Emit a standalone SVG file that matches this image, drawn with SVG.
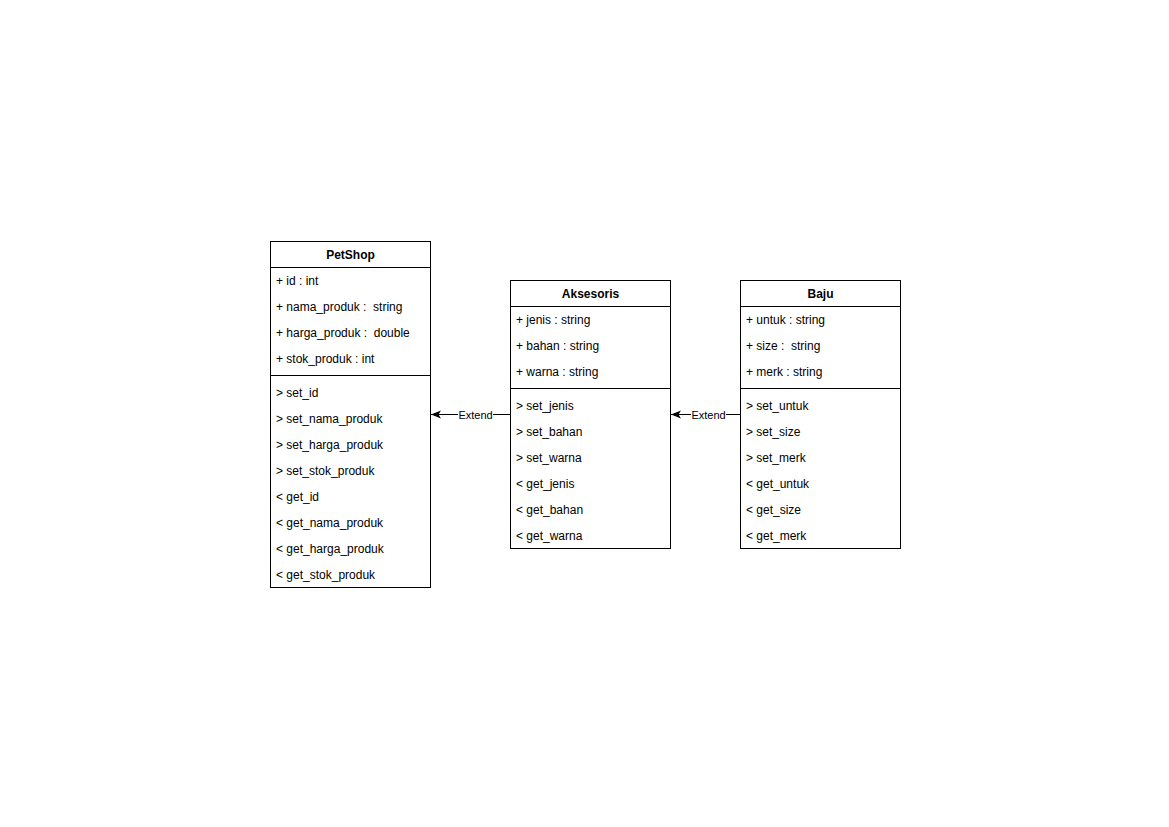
<svg xmlns="http://www.w3.org/2000/svg" width="1169" height="827" viewBox="0 0 1169 827" xml:space="preserve">
<style>
.box{fill:#fff;stroke:#000;stroke-width:1}
.sep{stroke:#000;stroke-width:1}
.t{font-family:"Liberation Sans",Arial,sans-serif;font-size:12px;fill:#000;dominant-baseline:central;white-space:pre}
.h{font-family:"Liberation Sans",Arial,sans-serif;font-size:12px;font-weight:bold;fill:#000;text-anchor:middle;dominant-baseline:central}
.lbl{font-family:"Liberation Sans",Arial,sans-serif;font-size:11px;fill:#000;text-anchor:middle;dominant-baseline:central}
.edge{stroke:#000;stroke-width:1;fill:none}
</style>
<defs>
<marker id="arr" viewBox="0 0 10 10" refX="10" refY="5" markerWidth="10" markerHeight="10" markerUnits="userSpaceOnUse" orient="auto">
<path d="M0,1 L10,5 L0,9 L2.5,5 Z" fill="#000"/>
</marker>
</defs>
<rect width="1169" height="827" fill="#fff"/>
<g id="connectors">
<line class="edge" x1="510.5" y1="414.5" x2="431" y2="414.5" marker-end="url(#arr)"/>
<rect x="458" y="407" width="35" height="14" fill="#fff"/>
<text class="lbl" x="475.5" y="414.5">Extend</text>
<line class="edge" x1="740.5" y1="414.5" x2="671" y2="414.5" marker-end="url(#arr)"/>
<rect x="691" y="407" width="35" height="14" fill="#fff"/>
<text class="lbl" x="708.5" y="414.5">Extend</text>
</g>
<g id="PetShop">
<rect class="box" x="270.5" y="241.5" width="160" height="346"/>
<line class="sep" x1="270.5" y1="267.5" x2="430.5" y2="267.5"/>
<line class="sep" x1="270.5" y1="375.5" x2="430.5" y2="375.5"/>
<text class="h" x="350.5" y="254.5">PetShop</text>
<text class="t" x="276" y="281">+ id : int</text>
<text class="t" x="276" y="307">+ nama_produk :  string</text>
<text class="t" x="276" y="333">+ harga_produk :  double</text>
<text class="t" x="276" y="359">+ stok_produk : int</text>
<text class="t" x="276" y="393">&gt; set_id</text>
<text class="t" x="276" y="419">&gt; set_nama_produk</text>
<text class="t" x="276" y="445">&gt; set_harga_produk</text>
<text class="t" x="276" y="471">&gt; set_stok_produk</text>
<text class="t" x="276" y="497">&lt; get_id</text>
<text class="t" x="276" y="523">&lt; get_nama_produk</text>
<text class="t" x="276" y="549">&lt; get_harga_produk</text>
<text class="t" x="276" y="575">&lt; get_stok_produk</text>
</g>
<g id="Aksesoris">
<rect class="box" x="510.5" y="280.5" width="160" height="268"/>
<line class="sep" x1="510.5" y1="306.5" x2="670.5" y2="306.5"/>
<line class="sep" x1="510.5" y1="388.5" x2="670.5" y2="388.5"/>
<text class="h" x="590.5" y="293.5">Aksesoris</text>
<text class="t" x="516" y="320">+ jenis : string</text>
<text class="t" x="516" y="346">+ bahan : string</text>
<text class="t" x="516" y="372">+ warna : string</text>
<text class="t" x="516" y="406">&gt; set_jenis</text>
<text class="t" x="516" y="432">&gt; set_bahan</text>
<text class="t" x="516" y="458">&gt; set_warna</text>
<text class="t" x="516" y="484">&lt; get_jenis</text>
<text class="t" x="516" y="510">&lt; get_bahan</text>
<text class="t" x="516" y="536">&lt; get_warna</text>
</g>
<g id="Baju">
<rect class="box" x="740.5" y="280.5" width="160" height="268"/>
<line class="sep" x1="740.5" y1="306.5" x2="900.5" y2="306.5"/>
<line class="sep" x1="740.5" y1="388.5" x2="900.5" y2="388.5"/>
<text class="h" x="820.5" y="293.5">Baju</text>
<text class="t" x="746" y="320">+ untuk : string</text>
<text class="t" x="746" y="346">+ size :  string</text>
<text class="t" x="746" y="372">+ merk : string</text>
<text class="t" x="746" y="406">&gt; set_untuk</text>
<text class="t" x="746" y="432">&gt; set_size</text>
<text class="t" x="746" y="458">&gt; set_merk</text>
<text class="t" x="746" y="484">&lt; get_untuk</text>
<text class="t" x="746" y="510">&lt; get_size</text>
<text class="t" x="746" y="536">&lt; get_merk</text>
</g>
</svg>
